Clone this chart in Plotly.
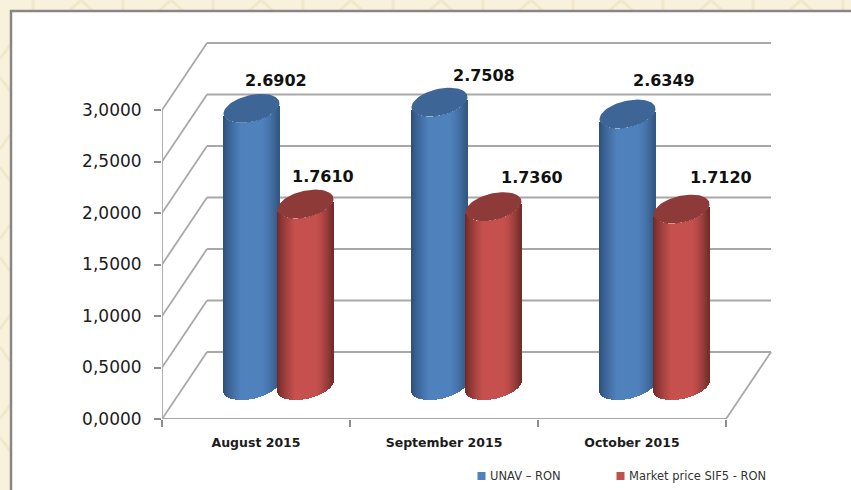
import numpy as np
import plotly.graph_objects as go

# ---- data ----
months = ["August 2015", "September 2015", "October 2015"]
series_names = ["UNAV – RON", "Market price SIF5 - RON"]
unav_values = [2.6902, 2.7508, 2.6349]
sif5_values = [1.7610, 1.7360, 1.7120]
y_ticks = [0, 0.5, 1, 1.5, 2, 2.5, 3]
y_tick_labels = ["0,0000", "0,5000", "1,0000", "1,5000", "2,0000", "2,5000", "3,0000"]

# ---- frame geometry (pixels) ----
W, H = 851, 490
L, R, T, B = 162, 78, 40, 71
PX_CAT = 188.0
PX_UNIT = 103.0
DEPTH_X, DEPTH_Y = 45.0, 67.0
plot_w, plot_h = W - L - R, H - T - B
dx, dy = DEPTH_X / PX_CAT, DEPTH_Y / PX_UNIT
GRID = "#a8a8a8"
TXT = "#1c1c1c"


def px_x(p):
    return p / W


def px_y(p):
    return 1 - p / H


shapes = []


def line(x0, y0, x1, y1, color=GRID, width=1.8, xref="x", yref="y"):
    shapes.append(dict(type="line", x0=x0, y0=y0, x1=x1, y1=y1, xref=xref, yref=yref,
                       layer="below", line=dict(color=color, width=width)))


# page decoration: pale lattice around the white panel
DECOR = "#f1e7ca"
for k in range(10):
    a = 81 + 90 * k
    shapes.append(dict(type="path", xref="paper", yref="paper", layer="below",
                       path=f"M{px_x(a-12)},{px_y(11)} L{px_x(a)},{px_y(0)} L{px_x(a+12)},{px_y(11)}",
                       line=dict(color=DECOR, width=3)))
    line(px_x(33 + 90 * k), px_y(0), px_x(33 + 90 * k), px_y(11), DECOR, 3, "paper", "paper")
for k in range(6):
    c = 45 + 90 * k
    line(px_x(0), px_y(c + 14), px_x(10), px_y(c), DECOR, 3, "paper", "paper")
    line(px_x(0), px_y(c + 32), px_x(10), px_y(c + 46), DECOR, 3, "paper", "paper")

# white panel
shapes.append(dict(type="rect", xref="paper", yref="paper", layer="below",
                   x0=px_x(11), y0=px_y(11), x1=px_x(870), y1=px_y(510),
                   fillcolor="#ffffff", line=dict(color="#868686", width=2.5)))

# 3-D frame: back wall, side wall, floor, front axes
for v in y_ticks:
    line(dx, v + dy, 3 + dx, v + dy)
    line(0, v, dx, v + dy)
line(3, 0, 3 + dx, dy)
line(0, 0, 3, 0)
line(0, 0, 0, 3)

# ---- cylinders ----
BAR_W_PX = 54.0
CAP_DX, CAP_DY = 10.0, 14.5
RAD = np.sqrt((BAR_W_PX / 2 + 1) ** 2 - CAP_DX ** 2)
ALPHA = np.arctan2(CAP_DX, RAD)
HALF_X = np.hypot(RAD, CAP_DX)


def ring(theta):
    return RAD * np.cos(theta) + CAP_DX * np.sin(theta), CAP_DY * np.sin(theta)


lower_t = np.linspace(np.pi + ALPHA, 2 * np.pi + ALPHA, 200)
lower_x, lower_y = ring(lower_t)


def shade(u, dark_l, mid, dark_r):
    t = (u + HALF_X) / (2 * HALF_X)
    if t < 0.32:
        f, a, b = (t / 0.32) ** 0.75, dark_l, mid
    elif t < 0.68:
        f, a, b = 1.0, mid, mid
    else:
        f, a, b = ((t - 0.68) / 0.32) ** 1.5, mid, dark_r
    c = [round(a[i] + (b[i] - a[i]) * f) for i in range(3)]
    return f"rgb({c[0]},{c[1]},{c[2]})"


def cylinder_trace(values, shift_px, dark_l, mid, dark_r):
    xs, bases, heights, colors, widths = [], [], [], [], []
    us = np.arange(-HALF_X + 0.5, HALF_X, 1.0)
    for i, v in enumerate(values):
        cx = i + 0.5 + 0.5 * dx + shift_px / PX_CAT
        for u in us:
            off = np.interp(u, lower_x, lower_y)
            xs.append(cx + u / PX_CAT)
            bases.append(0.5 * dy + off / PX_UNIT)
            heights.append(v)
            colors.append(shade(u, dark_l, mid, dark_r))
            widths.append(1.4 / PX_CAT)
    return go.Bar(x=xs, y=heights, base=bases, width=widths,
                  marker=dict(color=colors, line=dict(width=0)),
                  showlegend=False, hoverinfo="skip")


def cap_trace(values, shift_px, color):
    th = np.linspace(0, 2 * np.pi, 81)
    px_u, px_v = ring(th)
    xs, ys = [], []
    for i, v in enumerate(values):
        cx = i + 0.5 + 0.5 * dx + shift_px / PX_CAT
        xs += list(cx + px_u / PX_CAT) + [None]
        ys += list(v + 0.5 * dy + px_v / PX_UNIT) + [None]
    return go.Scatter(x=xs, y=ys, mode="lines", fill="toself", fillcolor=color,
                      line=dict(width=0, color=color), showlegend=False, hoverinfo="skip")


BLUE = ((44, 76, 116), (79, 129, 189), (50, 86, 128))
RED = ((104, 40, 38), (198, 80, 77), (112, 44, 42))
BLUE_CAP, RED_CAP = "#3d6595", "#8e3a38"
SHIFT = 27.0

fig = go.Figure()
fig.add_trace(cylinder_trace(unav_values, -SHIFT, *BLUE))
fig.add_trace(cylinder_trace(sif5_values, SHIFT, *RED))
fig.add_trace(cap_trace(unav_values, -SHIFT, BLUE_CAP))
fig.add_trace(cap_trace(sif5_values, SHIFT, RED_CAP))

# value labels: pixel nudges from each cap centre
label_nudges = {0: [(24, 28), (44, 27), (36, 34)], 1: [(17, 28), (38, 29), (39, 32)]}
annotations = []
for s, (vals, shift) in enumerate([(unav_values, -SHIFT), (sif5_values, SHIFT)]):
    for i, v in enumerate(vals):
        nx, ny = label_nudges[s][i]
        annotations.append(dict(x=i + 0.5 + 0.5 * dx + shift / PX_CAT, y=v + 0.5 * dy,
                                xref="x", yref="y", text=f"{v:.4f}", showarrow=False,
                                xshift=nx, yshift=ny,
                                font=dict(family="DejaVu Sans", size=16, color="#111111", weight=700)))

# legend keys and labels
for name, sw_x, text_x, col in [(series_names[0], 481.5, 488, "#4f81bd"),
                                (series_names[1], 620.5, 627, "#c0504d")]:
    shapes.append(dict(type="rect", xref="paper", yref="paper", layer="below",
                       x0=px_x(sw_x - 4), x1=px_x(sw_x + 4), y0=px_y(480), y1=px_y(472),
                       fillcolor=col, line=dict(width=0)))
    annotations.append(dict(x=px_x(text_x), y=px_y(476), xref="paper", yref="paper", text=name,
                            showarrow=False, xanchor="left", yanchor="middle",
                            font=dict(family="DejaVu Sans", size=11.5, color="#333333")))

fig.update_layout(
    width=W, height=H, autosize=False,
    margin=dict(l=0, r=0, t=0, b=0, pad=0),
    paper_bgcolor="#f8f2dd", plot_bgcolor="rgba(0,0,0,0)",
    barmode="overlay", bargap=0, shapes=shapes, annotations=annotations,
    showlegend=False,
    xaxis=dict(domain=[L / W, (W - R) / W], range=[0, plot_w / PX_CAT], automargin=False,
               showgrid=False, zeroline=False, showline=False,
               tickmode="array", tickvals=[0.5, 1.5, 2.5], ticktext=months, ticks="",
               ticklabelstandoff=14,
               tickfont=dict(family="DejaVu Sans", size=12.5, color=TXT, weight=700),
               minor=dict(tickmode="array", tickvals=[0, 1, 2, 3], ticks="outside", ticklen=7,
                          tickwidth=1.5, tickcolor="#8c8c8c", showgrid=False)),
    yaxis=dict(domain=[B / H, (H - T) / H], range=[0, plot_h / PX_UNIT], automargin=False,
               showgrid=False, zeroline=False, showline=False,
               tickmode="array", tickvals=y_ticks, ticktext=y_tick_labels, ticks="outside",
               ticklen=7, tickwidth=1.5, tickcolor="#8c8c8c", ticklabelstandoff=9,
               tickfont=dict(family="DejaVu Sans", size=17, color=TXT)),
)

fig.write_html("out.html", config={"displayModeBar": False},
               post_script="document.body.style.margin='0';document.body.style.overflow='hidden';")
